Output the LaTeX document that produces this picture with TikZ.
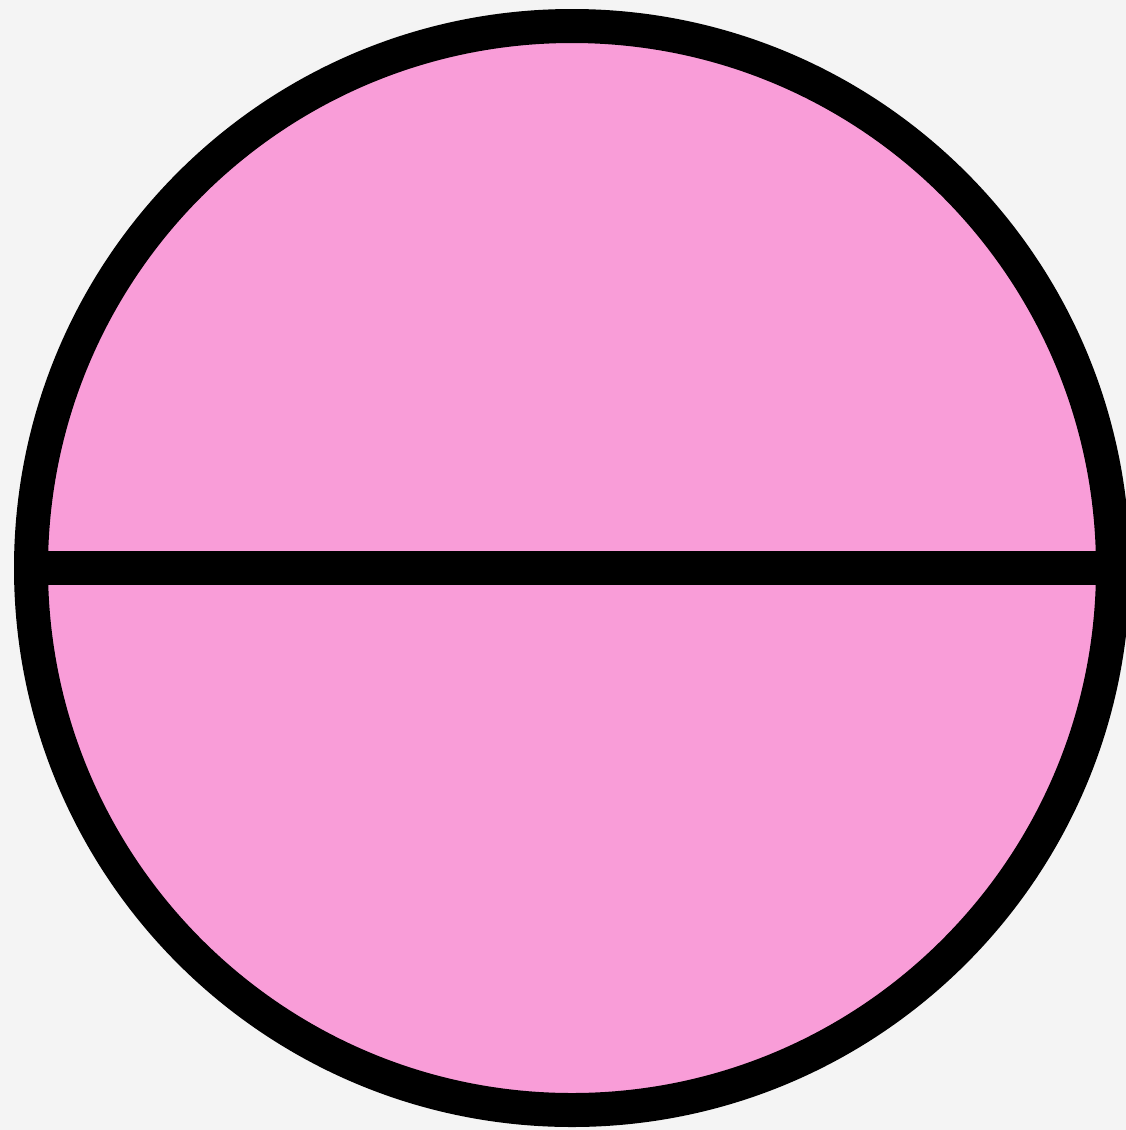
\documentclass[tikz,border=0pt]{standalone}
\definecolor{bg}{RGB}{244,244,244}
\definecolor{pinkfill}{RGB}{249,157,216}
\begin{document}
\begin{tikzpicture}[x=1pt,y=-1pt]
\path[use as bounding box,fill=bg] (0,0) rectangle (1126,1130);
\begin{scope}
\clip (0,0) rectangle (1126,1130);
\draw[line width=34pt,fill=pinkfill] (572,568) ellipse[x radius=541,y radius=542];
\draw[line width=34pt] (14,568) -- (1140,568);
\end{scope}
\end{tikzpicture}
\end{document}
